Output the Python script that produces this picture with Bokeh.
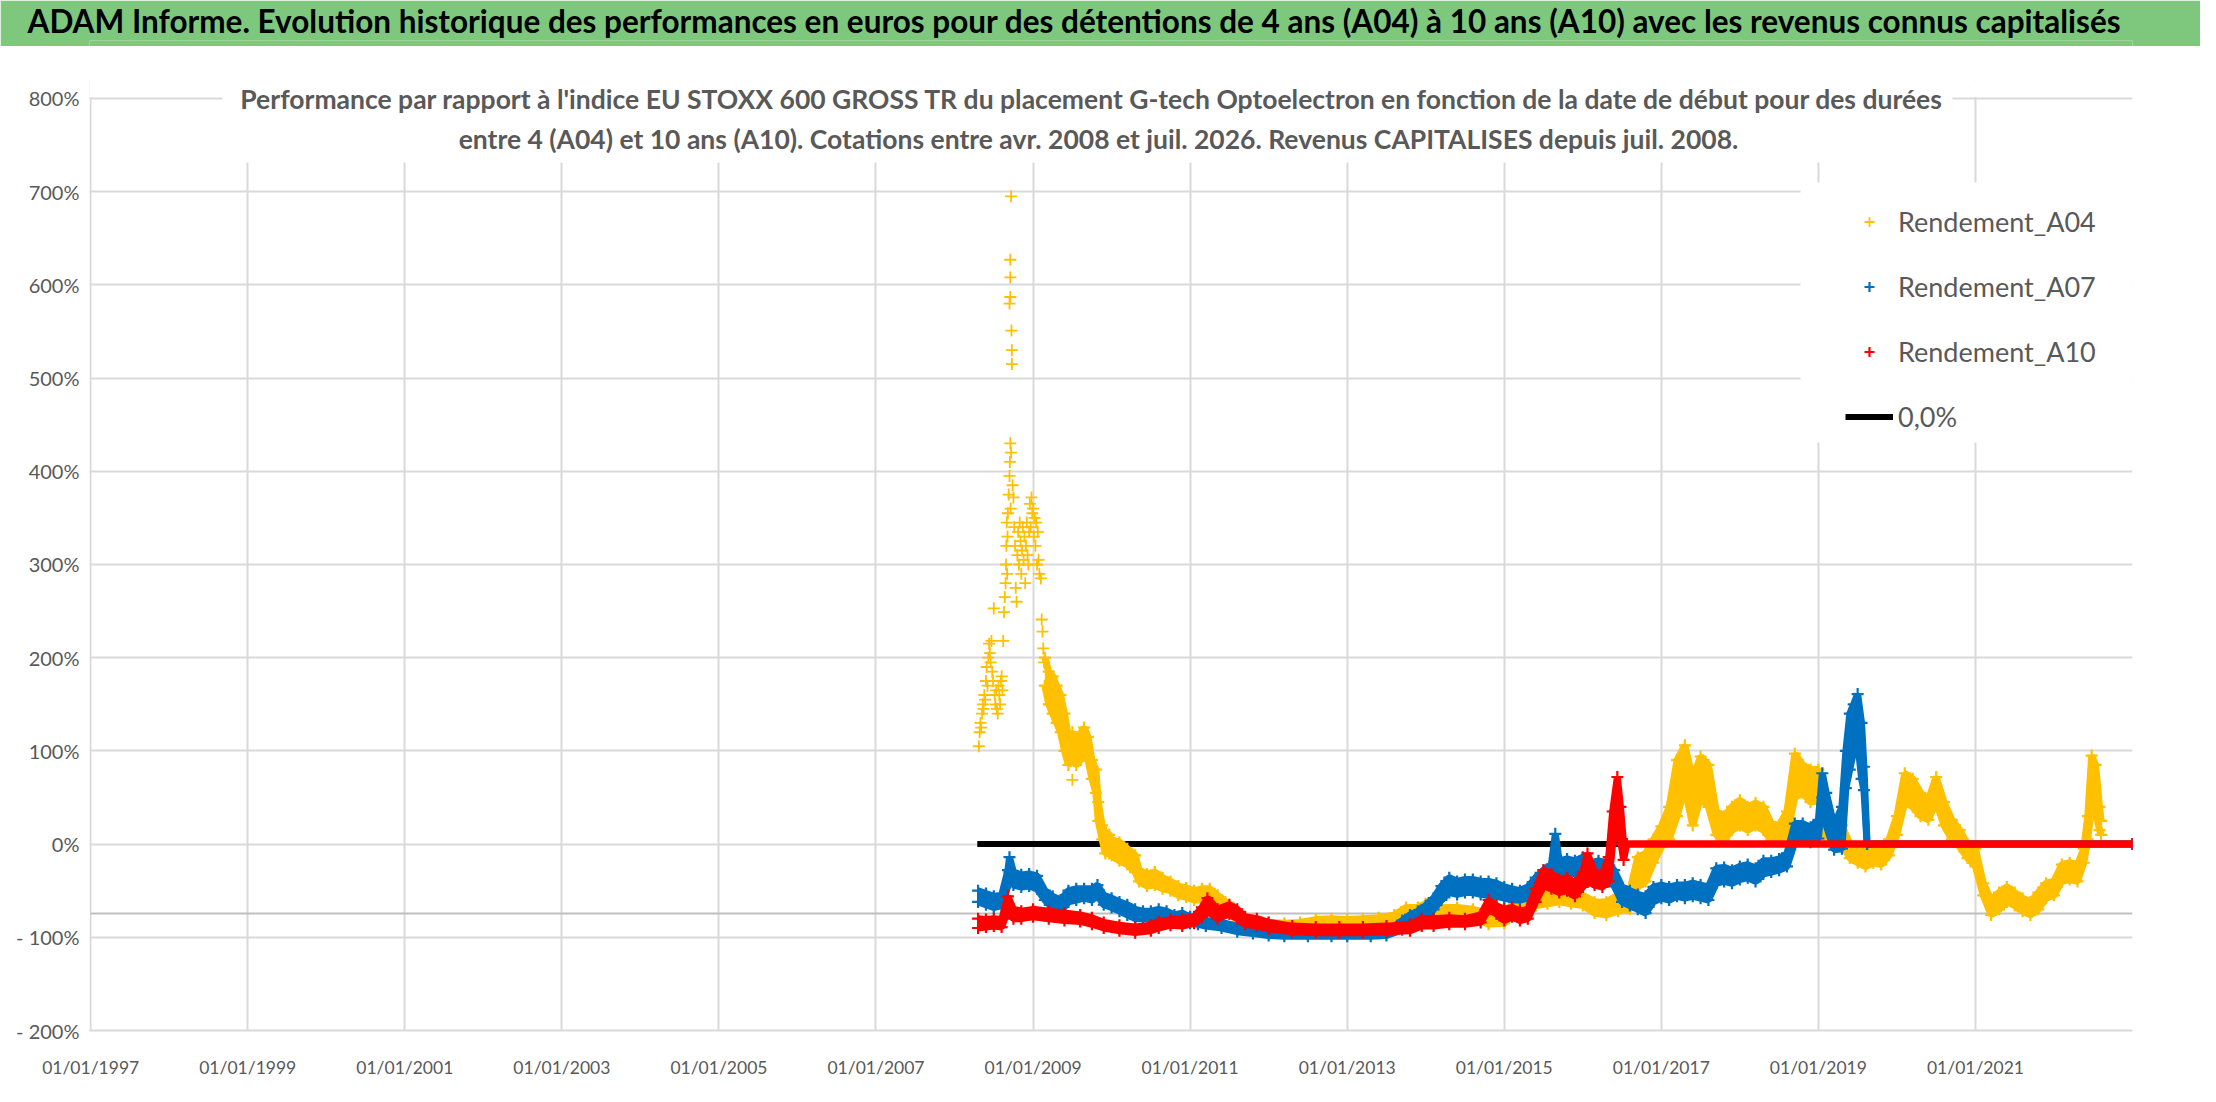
from bokeh.plotting import figure
from bokeh.models import Range1d, FixedTicker, Label, BoxAnnotation, Legend, LegendItem, Title
from bokeh.layouts import column
from bokeh.embed import file_html
from bokeh.resources import INLINE

# ---------------- texts ----------------
main_title = ("ADAM Informe. Evolution historique des performances en euros pour des détentions "
              "de 4 ans (A04) à 10 ans (A10) avec les revenus connus capitalisés")
subtitle_1 = ("Performance par rapport à l'indice EU STOXX 600 GROSS TR  du placement G-tech "
              "Optoelectron  en fonction de la date de début pour des durées")
subtitle_2 = ("entre 4 (A04) et 10 ans (A10). Cotations entre avr. 2008 et juil. 2026. "
              "Revenus CAPITALISES depuis juil. 2008.")

# ---------------- axes ----------------
x_tick_years = [1997, 1999, 2001, 2003, 2005, 2007, 2009, 2011, 2013, 2015, 2017, 2019, 2021]
x_tick_labels = ["01/01/1997", "01/01/1999", "01/01/2001", "01/01/2003", "01/01/2005",
                 "01/01/2007", "01/01/2009", "01/01/2011", "01/01/2013", "01/01/2015",
                 "01/01/2017", "01/01/2019", "01/01/2021"]
y_tick_values = [-200, -100, 0, 100, 200, 300, 400, 500, 600, 700, 800]
y_tick_labels = ["- 200%", "- 100%", "0%", "100%", "200%", "300%", "400%", "500%",
                 "600%", "700%", "800%"]

series_names = ["Rendement_A04", "Rendement_A07", "Rendement_A10", "0,0%"]

# ---------------- data (start year as decimal year, performance in %) ----------------
# Rendement_A04 : sparse early points
a04_pts_x = [2008.31, 2008.32, 2008.33, 2008.34, 2008.35, 2008.36, 2008.37, 2008.38, 2008.39,
             2008.40, 2008.41, 2008.42, 2008.43, 2008.44, 2008.45, 2008.46, 2008.47, 2008.48,
             2008.49, 2008.50, 2008.51, 2008.52, 2008.53, 2008.54, 2008.55, 2008.56, 2008.57,
             2008.58, 2008.59, 2008.60, 2008.61, 2008.62, 2008.63, 2008.64, 2008.65, 2008.655,
             2008.66, 2008.665, 2008.67, 2008.675, 2008.68, 2008.69, 2008.70, 2008.705, 2008.71,
             2008.715, 2008.72, 2008.70, 2008.71, 2008.71, 2008.71, 2008.72, 2008.725, 2008.73,
             2008.73, 2008.74, 2008.75, 2008.76, 2008.77, 2008.78, 2008.79, 2008.80, 2008.81,
             2008.82, 2008.83, 2008.84, 2008.85, 2008.86, 2008.87, 2008.88, 2008.89, 2008.90,
             2008.91, 2008.92, 2008.93, 2008.94, 2008.95, 2008.96, 2008.97, 2008.98, 2008.99,
             2009.00, 2009.01, 2009.02, 2009.03, 2009.04, 2009.05, 2009.06, 2009.07, 2009.08,
             2009.10, 2009.11, 2009.12, 2009.13, 2009.14, 2009.50]
a04_pts_y = [105, 120, 130, 125, 140, 150, 145, 160, 155,
             175, 190, 170, 200, 215, 205, 195, 218, 185,
             175, 253, 160, 150, 165, 145, 140, 170, 160,
             150, 175, 180, 165, 218, 249, 265, 280, 300,
             320, 345, 290, 330, 355, 375, 395, 410, 430,
             360, 420, 580, 587, 608, 627, 695, 551, 530,
             515, 385, 372, 340, 320, 275, 260, 310, 335,
             300, 345, 325, 290, 315, 340, 305, 330, 280,
             320, 345, 310, 300, 335, 365, 340, 372, 355,
             360, 330, 350, 320, 345, 300, 335, 305, 290,
             285, 241, 228, 210, 195, 69]

# Rendement_A04 : band (low / high of the cloud)
a04_x = [2009.15, 2009.2, 2009.25, 2009.3, 2009.35, 2009.4, 2009.45, 2009.5, 2009.55, 2009.6,
         2009.65, 2009.7, 2009.75, 2009.8, 2009.83, 2009.88, 2009.92, 2009.97, 2010.0, 2010.1,
         2010.2, 2010.3, 2010.35, 2010.45, 2010.55, 2010.65, 2010.75, 2010.85, 2010.95, 2011.05,
         2011.15, 2011.25, 2011.35, 2011.45, 2011.55, 2011.65, 2011.8, 2012.0, 2012.2, 2012.4,
         2012.6, 2012.8, 2013.0, 2013.2, 2013.4, 2013.6, 2013.75, 2013.9, 2014.0, 2014.2,
         2014.4, 2014.6, 2014.8, 2015.0, 2015.2, 2015.4, 2015.55, 2015.7, 2015.85, 2016.0,
         2016.15, 2016.3, 2016.45, 2016.6, 2016.7, 2016.8, 2016.9, 2017.0, 2017.1, 2017.2,
         2017.3, 2017.4, 2017.5, 2017.6, 2017.7, 2017.8, 2017.9, 2018.0, 2018.1, 2018.2,
         2018.3, 2018.4, 2018.5, 2018.6, 2018.7, 2018.8, 2018.9, 2019.0, 2019.1, 2019.2,
         2019.3, 2019.4, 2019.5, 2019.6, 2019.7, 2019.8, 2019.9, 2020.0, 2020.1, 2020.2,
         2020.3, 2020.4, 2020.5, 2020.6, 2020.7, 2020.8, 2020.9, 2021.0, 2021.1, 2021.2,
         2021.3, 2021.4, 2021.5, 2021.6, 2021.7, 2021.8, 2021.9, 2022.0, 2022.1, 2022.2,
         2022.3, 2022.38, 2022.43, 2022.48, 2022.53, 2022.58, 2022.6]
a04_lo = [170, 150, 140, 130, 120, 100, 85, 90, 85, 90,
          95, 90, 70, 55, 25, 5, -10, -10, -12, -18,
          -22, -30, -40, -45, -44, -48, -50, -55, -57, -60,
          -60, -58, -66, -72, -78, -85, -88, -90, -91, -90,
          -88, -87, -88, -87, -86, -84, -78, -80, -78, -77,
          -76, -78, -86, -85, -68, -66, -64, -62, -64, -66,
          -74, -76, -72, -70, -46, -40, -20, -3, 5, 30,
          60, 20, 50, 40, 10, 4, 15, 20, 15, 20,
          15, 4, 4, 10, 50, 55, 45, 47, 5, 4,
          0, -15, -20, -24, -20, -22, -12, 10, 45, 40,
          30, 26, 45, 20, 5, -3, -15, -24, -55, -76,
          -70, -62, -66, -72, -76, -70, -58, -55, -40, -38,
          -40, -20, 5, 40, 35, 15, 10]
a04_hi = [200, 185, 180, 170, 160, 140, 115, 120, 110, 118,
          125, 115, 90, 80, 45, 20, 12, 10, 5, 2,
          -5, -12, -28, -32, -30, -36, -40, -45, -47, -50,
          -48, -48, -55, -62, -68, -76, -82, -84, -85, -84,
          -81, -80, -81, -80, -79, -76, -68, -68, -64, -68,
          -68, -70, -74, -72, -58, -55, -53, -52, -56, -55,
          -62, -62, -55, -50, -14, -10, 5, 19, 40, 90,
          106, 70, 94, 85, 35, 30, 40, 47, 40, 44,
          40, 22, 20, 35, 97, 85, 80, 80, 30, 26,
          20, 0, -3, -5, -2, -6, 5, 30, 76, 70,
          55, 47, 72, 45, 26, 15, 0, -5, -42, -60,
          -52, -46, -52, -58, -62, -52, -42, -40, -22, -20,
          -22, -5, 30, 95, 85, 40, 25]

# Rendement_A07 : band
a07_x = [2008.3, 2008.4, 2008.5, 2008.6, 2008.68, 2008.7, 2008.75, 2008.85, 2008.95, 2009.05,
         2009.15, 2009.25, 2009.35, 2009.45, 2009.55, 2009.65, 2009.75, 2009.82, 2009.9, 2010.0,
         2010.1, 2010.2, 2010.3, 2010.4, 2010.5, 2010.6, 2010.7, 2010.8, 2010.9, 2011.0,
         2011.1, 2011.2, 2011.4, 2011.6, 2011.8, 2012.0, 2012.2, 2012.5, 2012.8, 2013.0,
         2013.3, 2013.5, 2013.7, 2013.8, 2013.9, 2014.0, 2014.1, 2014.2, 2014.3, 2014.4,
         2014.5, 2014.6, 2014.7, 2014.8, 2014.9, 2015.0, 2015.1, 2015.2, 2015.3, 2015.4,
         2015.5, 2015.6, 2015.65, 2015.7, 2015.8, 2015.9, 2016.0, 2016.1, 2016.2, 2016.3,
         2016.4, 2016.5, 2016.6, 2016.7, 2016.8, 2016.9, 2017.0, 2017.1, 2017.2, 2017.3,
         2017.4, 2017.5, 2017.6, 2017.7, 2017.8, 2017.9, 2018.0, 2018.1, 2018.2, 2018.3,
         2018.4, 2018.5, 2018.6, 2018.7, 2018.8, 2018.9, 2019.0, 2019.05, 2019.1, 2019.2,
         2019.3, 2019.35, 2019.4, 2019.45, 2019.5, 2019.55, 2019.58, 2019.62, 2023.0]
a07_lo = [-62, -65, -68, -66, -45, -30, -44, -46, -45, -48,
          -60, -68, -72, -62, -60, -58, -60, -55, -65, -68,
          -72, -76, -80, -80, -80, -78, -80, -84, -82, -85,
          -86, -88, -90, -94, -96, -98, -99, -99, -99, -99,
          -99, -98, -92, -88, -86, -82, -70, -60, -52, -54,
          -52, -52, -54, -55, -56, -58, -60, -60, -58, -50,
          -42, -38, -30, -32, -30, -32, -30, -34, -32, -36,
          -45, -62, -66, -70, -74, -62, -58, -60, -56, -58,
          -56, -58, -60, -42, -40, -42, -38, -36, -40, -32,
          -30, -28, -24, 2, 4, 2, 6, 50, 20, -6,
          -5, 60, 80, 100, 110, 70, 58, 0, 0]
a07_hi = [-50, -53, -56, -55, -28, -14, -30, -33, -32, -34,
          -50, -56, -60, -50, -48, -48, -48, -44, -55, -58,
          -62, -65, -70, -72, -72, -70, -72, -76, -74, -78,
          -80, -82, -84, -88, -90, -93, -94, -95, -95, -95,
          -95, -94, -82, -76, -72, -66, -58, -45, -36, -40,
          -38, -38, -40, -40, -42, -46, -48, -50, -46, -36,
          -28, -22, 11, -18, -16, -18, -14, -20, -18, -20,
          -28, -46, -50, -54, -56, -46, -44, -46, -44, -44,
          -42, -44, -46, -26, -25, -28, -24, -22, -26, -18,
          -18, -16, -10, 22, 22, 18, 26, 76, 55, 20,
          40, 100, 140, 150, 161, 130, 83, 0, 0]

# Rendement_A10 : band
a10_x = [2008.3, 2008.4, 2008.5, 2008.6, 2008.68, 2008.75, 2008.85, 2009.0, 2009.2, 2009.4,
         2009.6, 2009.75, 2009.9, 2010.1, 2010.3, 2010.5, 2010.6, 2010.75, 2010.9, 2011.05,
         2011.15, 2011.22, 2011.35, 2011.5, 2011.6, 2011.7, 2011.85, 2012.0, 2012.3, 2012.6,
         2012.9, 2013.2, 2013.5, 2013.8, 2013.95, 2014.1, 2014.3, 2014.5, 2014.7, 2014.8,
         2014.9, 2015.0, 2015.1, 2015.2, 2015.3, 2015.4, 2015.5, 2015.6, 2015.7, 2015.8,
         2015.9, 2016.0, 2016.06, 2016.15, 2016.25, 2016.33, 2016.38, 2016.44, 2016.48, 2016.52,
         2016.56, 2023.0]
a10_lo = [-90, -89, -88, -89, -70, -80, -80, -78, -80, -82,
          -83, -86, -90, -93, -95, -93, -90, -87, -88, -85,
          -78, -72, -80, -75, -80, -86, -88, -91, -94, -95,
          -95, -95, -94, -93, -88, -88, -86, -86, -84, -70,
          -75, -82, -78, -82, -80, -62, -45, -48, -52, -50,
          -56, -46, -40, -44, -46, -40, 0, 20, 5, -17,
          0, 0]
a10_hi = [-80, -81, -80, -81, -56, -70, -72, -70, -72, -74,
          -76, -79, -84, -87, -89, -87, -83, -81, -80, -78,
          -68, -58, -70, -65, -70, -78, -80, -84, -88, -89,
          -89, -89, -88, -86, -80, -80, -79, -80, -76, -60,
          -66, -70, -68, -72, -70, -48, -28, -32, -38, -36,
          -42, -30, -10, -30, -32, -14, 35, 72, 40, 0,
          0, 0]

# 0,0% reference line and the grey horizontal axis line
zero_x = [2008.29, 2016.45]
zero_y = [0, 0]
axis_line_x = [1997.0, 2023.0]
axis_line_y = [-74.5, -74.5]

# ---------------- styling ----------------
FONT = "Lato"
TEXT_GREY = "#595959"
GRID = "#d9d9d9"
GREEN = "#7DC87D"
C04, C07, C10 = "#FFC000", "#0070C0", "#FF0000"

# ---------------- header (green title bar) ----------------
head_title = Title(text=main_title, align="left", offset=-62, standoff=0,
                   text_font=FONT, text_font_style="bold", text_font_size="31.5px",
                   text_color="black", vertical_align="middle")
head = figure(width=2200, height=46, x_range=Range1d(0, 1), y_range=Range1d(0, 1),
              x_axis_location=None, y_axis_location=None, title=head_title,
              output_backend="svg", toolbar_location=None,
              min_border_left=89, min_border_right=68, min_border_top=4, min_border_bottom=0)
head.grid.visible = False
head.outline_line_color = None
head.background_fill_color = GREEN
head.border_fill_color = GREEN

# thin grey separator under the title bar
sep = figure(width=2200, height=4, x_range=Range1d(0, 1), y_range=Range1d(0, 1),
             x_axis_location=None, y_axis_location=None,
             output_backend="svg", toolbar_location=None,
             min_border_left=89, min_border_right=68, min_border_top=2, min_border_bottom=0)
sep.grid.visible = False
sep.outline_line_color = None
sep.background_fill_color = "#d0d0d0"
sep.border_fill_color = "#d0d0d0"

# ---------------- chart ----------------
p = figure(width=2200, height=1036, x_range=Range1d(1996.985, 2023), y_range=Range1d(-200, 819.3),
           output_backend="svg", toolbar_location=None,
           min_border_left=89, min_border_right=68, min_border_top=30, min_border_bottom=56)
p.outline_line_color = None
p.background_fill_color = "white"
p.border_fill_color = "white"

p.xgrid.ticker = FixedTicker(ticks=x_tick_years)
p.ygrid.ticker = FixedTicker(ticks=y_tick_values)
p.grid.grid_line_color = GRID
p.grid.grid_line_width = 2

p.xaxis.ticker = FixedTicker(ticks=x_tick_years)
p.xaxis.major_label_overrides = dict(zip(x_tick_years, x_tick_labels))
p.yaxis.ticker = FixedTicker(ticks=y_tick_values)
p.yaxis.major_label_overrides = dict(zip(y_tick_values, y_tick_labels))
for ax in (p.xaxis, p.yaxis):
    ax.major_tick_line_color = None
    ax.minor_tick_line_color = None
    ax.major_tick_out = 0
    ax.major_tick_in = 0
    ax.minor_tick_out = 0
    ax.major_label_text_font = FONT
    ax.major_label_text_color = TEXT_GREY
p.xaxis.axis_line_color = GRID
p.xaxis.axis_line_width = 2
p.yaxis.axis_line_color = None
p.xaxis.major_label_text_font_size = "17.5px"
p.yaxis.major_label_text_font_size = "20px"
p.xaxis.major_label_standoff = 26
p.yaxis.major_label_standoff = 10

# grey horizontal axis line
p.line(axis_line_x, axis_line_y, line_color="#bfbfbf", line_width=2)
# 0,0% line
r_zero = p.line(zero_x, zero_y, line_color="black", line_width=6)


def band(xs, lo, hi, color):
    p.varea(x=xs, y1=lo, y2=hi, fill_color=color, fill_alpha=1)
    p.line(xs, lo, line_color=color, line_width=7)
    p.line(xs, hi, line_color=color, line_width=7)
    p.scatter(xs, hi, marker="cross", size=12, line_color=color, line_width=2.2)
    return p.scatter(xs, lo, marker="cross", size=12, line_color=color, line_width=2.2)


r04 = p.scatter(a04_pts_x, a04_pts_y, marker="cross", size=12, line_color=C04, line_width=1.8)
band(a04_x, a04_lo, a04_hi, C04)
r07 = band(a07_x, a07_lo, a07_hi, C07)
r10 = band(a10_x, a10_lo, a10_hi, C10)

# white strip above the 800% line (the plot area ends there in the original)
p.add_layout(BoxAnnotation(bottom=801.5, fill_color="white", fill_alpha=1, line_color=None))
# white boxes behind the chart title and the legend (they hide the gridlines)
p.add_layout(BoxAnnotation(left=133, right=1863, bottom=868, top=950,
                           left_units="screen", right_units="screen",
                           bottom_units="screen", top_units="screen",
                           fill_color="white", fill_alpha=1, line_color=None))
p.add_layout(BoxAnnotation(left=1711, right=2043, bottom=588, top=848,
                           left_units="screen", right_units="screen",
                           bottom_units="screen", top_units="screen",
                           fill_color="white", fill_alpha=1, line_color=None))

# chart title (two lines)
for txt, yy in ((subtitle_1, 932), (subtitle_2, 892)):
    p.add_layout(Label(x=1009, y=yy, x_units="screen", y_units="screen", text=txt,
                       text_align="center", text_baseline="middle", text_font=FONT,
                       text_font_style="bold", text_font_size="26.5px", text_color=TEXT_GREY))

legend = Legend(items=[LegendItem(label=series_names[0], renderers=[r04]),
                       LegendItem(label=series_names[1], renderers=[r07]),
                       LegendItem(label=series_names[2], renderers=[r10]),
                       LegendItem(label=series_names[3], renderers=[r_zero])],
                location=(1756, 597), orientation="vertical",
                label_text_font=FONT, label_text_font_size="27px", label_text_color=TEXT_GREY,
                glyph_width=48, glyph_height=25, label_height=32, spacing=32, padding=14,
                label_standoff=5, border_line_color=None, background_fill_color="white",
                background_fill_alpha=1, margin=0)
p.add_layout(legend)

layout = column(head, sep, p, spacing=0)
open("out.html", "w").write(file_html(layout, INLINE))
